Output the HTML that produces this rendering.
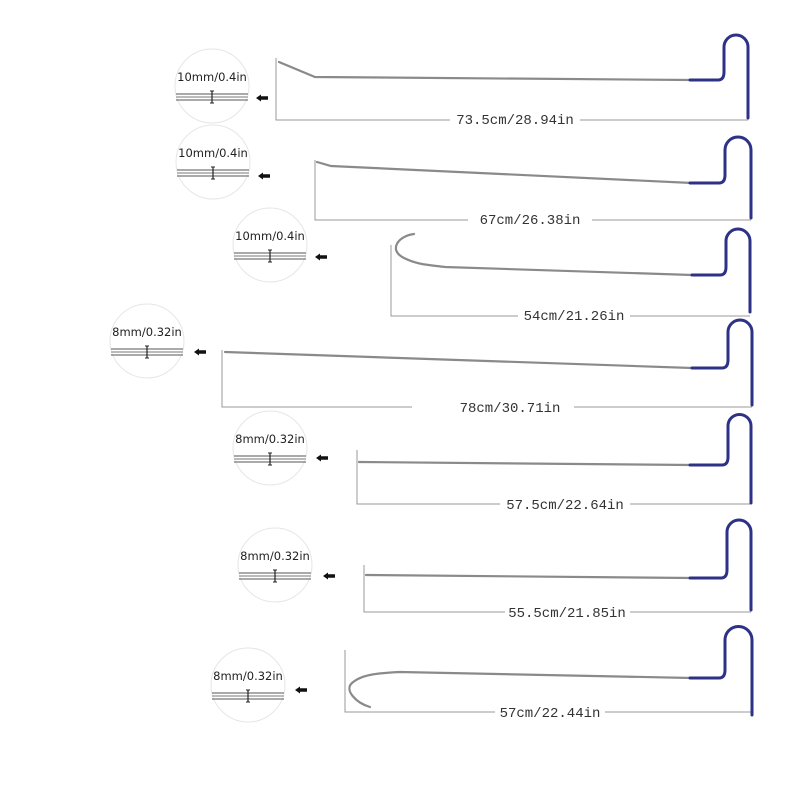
<!DOCTYPE html>
<html><head><meta charset="utf-8"><style>
html,body{margin:0;padding:0;background:#fff;}
svg{display:block}
.cl{font-family:"DejaVu Sans","Liberation Sans",sans-serif;font-size:11.5px;font-weight:500;fill:#222;text-anchor:middle}
.dim{font-family:"Liberation Mono",monospace;font-size:14px;fill:#333;text-anchor:middle}
</style></head><body>
<svg width="800" height="800" viewBox="0 0 800 800" xmlns="http://www.w3.org/2000/svg">
<defs>
<g id="mag">
<circle r="37" fill="#fff" stroke="#e6e6e6" stroke-width="1"/>
<line x1="-36" y1="8" x2="36" y2="8" stroke="#777" stroke-width="1.2"/>
<line x1="-36" y1="11" x2="36" y2="11" stroke="#bbb" stroke-width="2"/>
<line x1="-36" y1="14" x2="36" y2="14" stroke="#777" stroke-width="1.2"/>
<line x1="0" y1="5" x2="0" y2="17" stroke="#222" stroke-width="1.2"/>
<line x1="-2" y1="5" x2="2" y2="5" stroke="#222"/>
<line x1="-2" y1="17" x2="2" y2="17" stroke="#222"/>
</g>
<g id="arr"><path d="M-6,0 L-1,-3.5 L-1,-1.8 L6,-1.8 L6,1.8 L-1,1.8 L-1,3.5 Z" fill="#111"/></g>
</defs>

<g fill="none" stroke="#999" stroke-width="1">
<path d="M276,58 V120 H450 M580,120 H748"/>
<path d="M315,160 V220 H468 M592,220 H751"/>
<path d="M391,245 V316 H518 M630,316 H750"/>
<path d="M222,350 V407 H412 M574,407 H752"/>
<path d="M357,450 V504 H500 M630,504 H751"/>
<path d="M364,565 V612 H505 M630,612 H751"/>
<path d="M345,650 V712 H495 M605,712 H752"/>
</g>

<use href="#mag" x="212" y="86"/><text class="cl" x="212" y="81">10mm/0.4in</text>
<use href="#mag" x="213" y="162"/><text class="cl" x="213" y="157">10mm/0.4in</text>
<use href="#mag" x="270" y="245"/><text class="cl" x="270" y="240">10mm/0.4in</text>
<use href="#mag" x="147" y="341"/><text class="cl" x="147" y="336">8mm/0.32in</text>
<use href="#mag" x="270" y="448"/><text class="cl" x="270" y="443">8mm/0.32in</text>
<use href="#mag" x="275" y="565"/><text class="cl" x="275" y="560">8mm/0.32in</text>
<use href="#mag" x="248" y="685"/><text class="cl" x="248" y="680">8mm/0.32in</text>

<use href="#arr" x="262" y="98"/>
<use href="#arr" x="264" y="176"/>
<use href="#arr" x="321" y="257"/>
<use href="#arr" x="200" y="352"/>
<use href="#arr" x="322" y="458"/>
<use href="#arr" x="329" y="576"/>
<use href="#arr" x="301" y="690"/>

<g fill="none" stroke="#8a8a8a" stroke-width="2.2" stroke-linecap="round">
<path d="M279,62 L315,77 L692,80"/>
<path d="M317,162 L331,166 L692,183"/>
<path d="M414,234 C398,236 388,250 404,258 C418,265 430,265 445,267 L692,275"/>
<path d="M225,352 L692,368"/>
<path d="M359,462 L692,465"/>
<path d="M366,575 L692,578"/>
<path d="M370,707 C356,703 344,690 352,683 C362,674 380,673 400,672 L692,678"/>
</g>

<g fill="none" stroke="#2e3287" stroke-width="3" stroke-linecap="round">
<path d="M690,80 L718,80 Q724,80 724,72 L724,47 A12,12 0 0 1 748,47 L748,118"/>
<path d="M690,183 L719,183 Q725,183 725,175 L725,150 A13,13 0 0 1 751,150 L751,218"/>
<path d="M692,275 L720,275 Q726,275 726,267 L726,241 A12,12 0 0 1 750,241 L750,312"/>
<path d="M692,368 L722,368 Q728,368 728,360 L728,332 A12,12 0 0 1 752,332 L752,405"/>
<path d="M690,465 L722,465 Q728,465 728,457 L728,426 A11.5,11.5 0 0 1 751,426 L751,503"/>
<path d="M690,578 L721,578 Q727,578 727,570 L727,532 A12,12 0 0 1 751,532 L751,610"/>
<path d="M690,678 L719,678 Q725,678 725,670 L725,640 A13.5,13.5 0 0 1 752,640 L752,715"/>
</g>

<text class="dim" x="515" y="124">73.5cm/28.94in</text>
<text class="dim" x="530" y="224">67cm/26.38in</text>
<text class="dim" x="574" y="320">54cm/21.26in</text>
<text class="dim" x="510" y="412">78cm/30.71in</text>
<text class="dim" x="565" y="509">57.5cm/22.64in</text>
<text class="dim" x="567" y="617">55.5cm/21.85in</text>
<text class="dim" x="550" y="717">57cm/22.44in</text>
</svg>
</body></html>
